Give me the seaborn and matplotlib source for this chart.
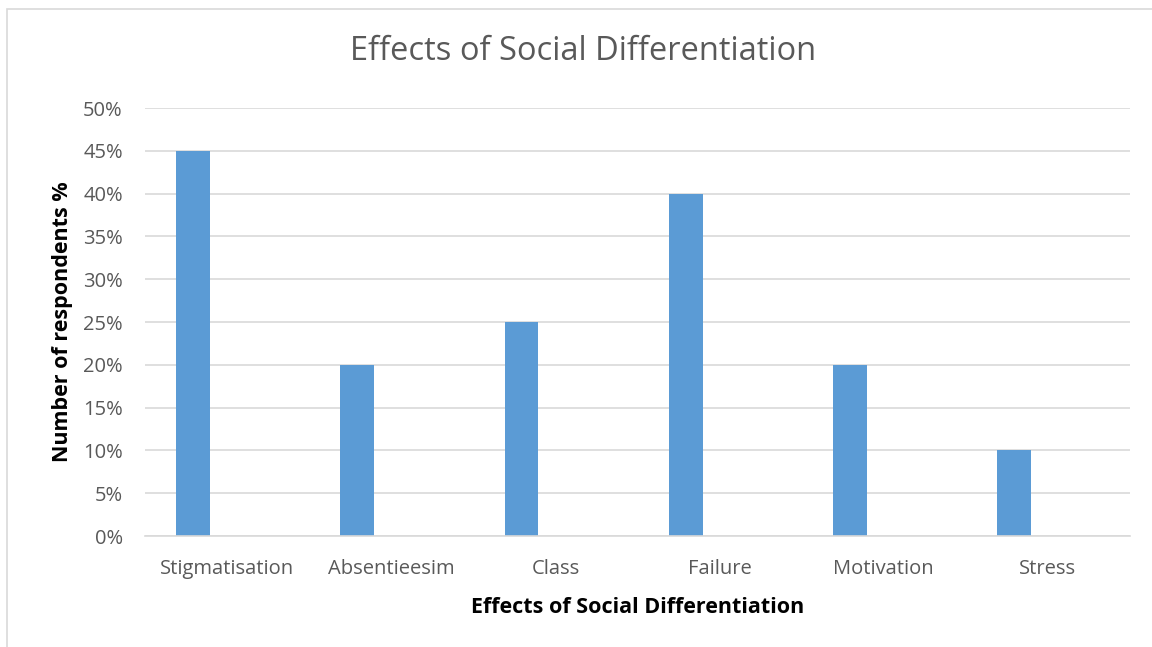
import matplotlib
matplotlib.use("Agg")
import matplotlib.pyplot as plt
import seaborn as sns
import pandas as pd
from matplotlib.patches import Rectangle
from matplotlib.ticker import PercentFormatter

categories = ["Stigmatisation", "Absentieesim", "Class", "Failure", "Motivation", "Stress"]
values = [0.45, 0.20, 0.25, 0.40, 0.20, 0.10]
y_ticks = [0.0, 0.05, 0.10, 0.15, 0.20, 0.25, 0.30, 0.35, 0.40, 0.45, 0.50]

sns.set_theme(style="white")
plt.rcParams["font.family"] = ["Open Sans", "DejaVu Sans"]

df = pd.DataFrame({"effect": categories, "share": values, "series": ["s1"] * len(categories)})

fig = plt.figure(figsize=(11.52, 6.47), dpi=100)
ax = fig.add_axes([145 / 1152, 1 - 536 / 647, (1130 - 145) / 1152, (536 - 108) / 647])

sns.barplot(data=df, x="effect", y="share", hue="series", hue_order=["s1", "s2", "s3"],
            palette={"s1": "#5B9BD5", "s2": "#ED7D31", "s3": "#A5A5A5"}, saturation=1,
            width=0.62, dodge=True, legend=False, linewidth=0, ax=ax, errorbar=None)

ax.set_ylim(0, 0.5)
ax.set_xlim(-0.5, len(categories) - 0.5)
ax.set_yticks(y_ticks)
ax.yaxis.set_major_formatter(PercentFormatter(1.0, decimals=0))
ax.grid(axis="y", color="#D9D9D9", linewidth=1.2)
ax.set_axisbelow(True)
for s in ["top", "right", "left"]:
    ax.spines[s].set_visible(False)
ax.spines["bottom"].set_color("#D9D9D9")
ax.spines["bottom"].set_linewidth(1.2)
ax.tick_params(axis="both", length=0, labelsize=14.5, colors="#595959")
ax.tick_params(axis="x", pad=16.5)
ax.tick_params(axis="y", pad=16)

ax.set_xlabel("Effects of Social Differentiation", fontsize=15.5, fontweight="bold", color="black", labelpad=13)
ax.set_ylabel("Number of respondents %", fontsize=15.5, fontweight="bold", color="black", labelpad=7)

fig.text(583 / 1152, 1 - 52 / 647, "Effects of Social Differentiation", ha="center", va="center",
         fontsize=23.5, color="#595959")

fig.patches.append(Rectangle((7 / 1152, -0.1), 1.2, 1 - 9 / 647 + 0.1, transform=fig.transFigure,
                             fill=False, edgecolor="#D9D9D9", linewidth=1.2))

fig.savefig("out.png", dpi=100, facecolor="white")
